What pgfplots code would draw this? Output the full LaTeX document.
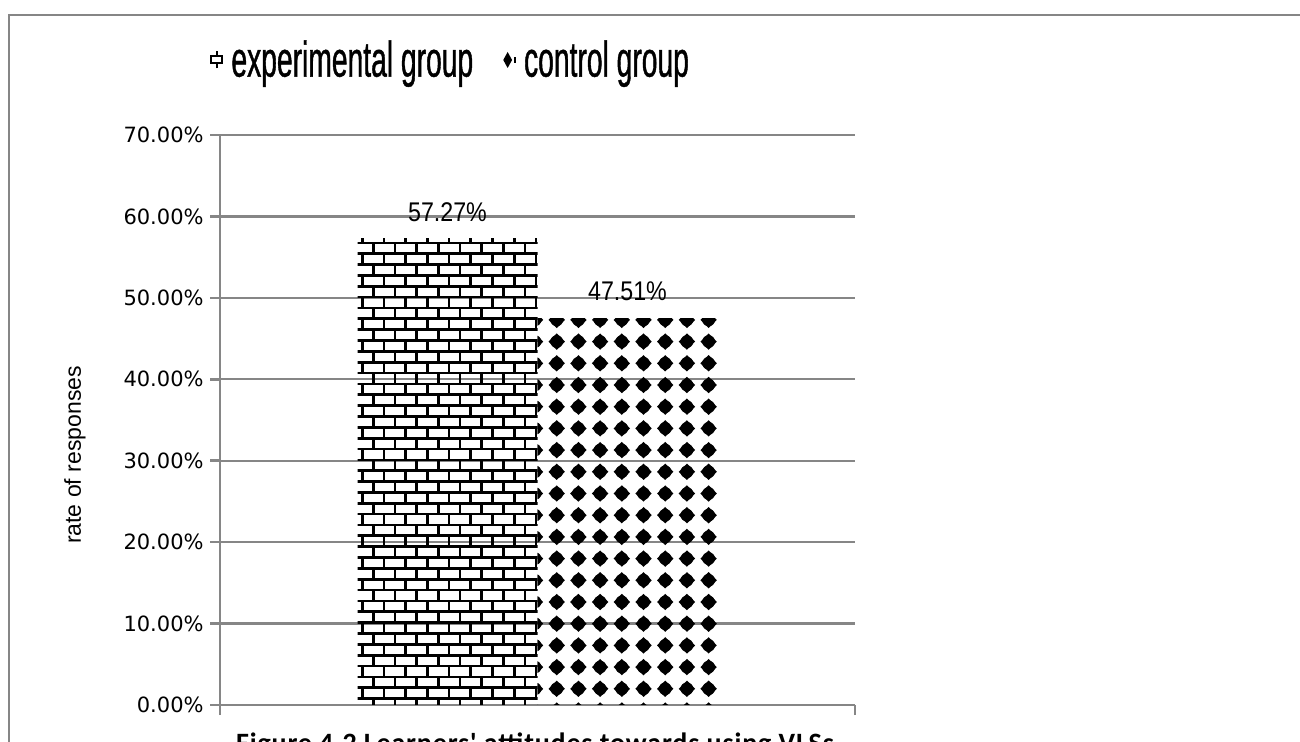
\documentclass[border=0pt]{standalone}
\usepackage{pgfplots}
\pgfplotsset{compat=1.18}
\usetikzlibrary{patterns}
\usepackage{fontspec}
\setmainfont{Liberation Sans}
\newfontfamily\legfont[FakeStretch=0.565,FakeBold=0.8]{Liberation Sans}
\newfontfamily\lblfont[FakeStretch=0.86]{Liberation Sans}
\newfontfamily\tickfont{DejaVu Sans}
\newfontfamily\capfont[LetterSpace=3]{Carlito}
\definecolor{axisgray}{HTML}{868686}

\pgfdeclarepatternformonly{xlbricks}{\pgfpoint{-1bp}{-1bp}}{\pgfpoint{11.85bp}{11.85bp}}{\pgfpoint{10.85bp}{10.85bp}}{%
\pgfsetlinewidth{1.35bp}%
\pgfpathmoveto{\pgfpoint{0bp}{0bp}}\pgfpathlineto{\pgfpoint{10.85bp}{0bp}}%
\pgfpathmoveto{\pgfpoint{0bp}{5.425bp}}\pgfpathlineto{\pgfpoint{10.85bp}{5.425bp}}%
\pgfpathmoveto{\pgfpoint{7.55bp}{0bp}}\pgfpathlineto{\pgfpoint{7.55bp}{5.425bp}}%
\pgfpathmoveto{\pgfpoint{2.125bp}{5.425bp}}\pgfpathlineto{\pgfpoint{2.125bp}{10.85bp}}%
\pgfusepath{stroke}}

\pgfdeclarepatternformonly{xldiamonds}{\pgfpoint{-1bp}{-1bp}}{\pgfpoint{12bp}{12bp}}{\pgfpoint{10.85bp}{10.85bp}}{%
\pgfpathmoveto{\pgfpoint{3.0bp}{4.9bp}}\pgfpathlineto{\pgfpoint{7.1bp}{9.0bp}}%
\pgfpathlineto{\pgfpoint{11.2bp}{4.9bp}}\pgfpathlineto{\pgfpoint{7.1bp}{0.8bp}}\pgfpathclose
\pgfusepath{fill}%
\pgfpathcircle{\pgfpoint{7.1bp}{4.9bp}}{3.2bp}%
\pgfusepath{fill}}

\begin{document}
\begin{tikzpicture}
\useasboundingbox (0,0) rectangle (650bp,371bp);
\clip (0,0) rectangle (650bp,371bp);
\draw[line width=1bp, color=axisgray] (4.25bp,-5bp) -- (4.25bp,363.5bp) -- (660bp,363.5bp);
\begin{axis}[
  at={(110bp,18.5bp)}, anchor=south west,
  width=317.5bp, height=285bp, scale only axis,
  xmin=-0.5, xmax=0.5, ymin=0, ymax=70,
  axis x line=bottom, axis y line=left,
  axis line style={draw=axisgray, line width=1.25bp, -},
  xtick={-0.5,0.5}, xticklabels={,},
  ytick={0,10,...,70},
  yticklabel={\pgfmathprintnumber[fixed,fixed zerofill,precision=2,assume math mode=true]{\tick}\%},
  yticklabel style={font=\tickfont\fontsize{10.5bp}{12bp}\selectfont, inner sep=0pt, xshift=-3bp},
  ymajorgrids, grid style={draw=axisgray, line width=1.1bp},
  tick style={draw=axisgray, line width=1.25bp},
  tick align=outside, major tick length=5bp,
  ybar=0pt, bar width=90bp,
  nodes near coords={\pgfmathprintnumber[fixed,fixed zerofill,precision=2,assume math mode=true]{\pgfplotspointmeta}\%},
  nodes near coords style={font=\lblfont\fontsize{13.5bp}{15bp}\selectfont, inner sep=0pt, yshift=8.5bp, text=black},
  ylabel={rate of responses},
  ylabel style={at={(axis description cs:-0.2283,0.4386)}, anchor=center, font=\fontsize{11.5bp}{13bp}\selectfont},
  legend columns=2,
  legend style={at={(-0.0157,1.1316)}, anchor=west, draw=none, fill=none, inner sep=0pt,
    font=\legfont\fontsize{25bp}{29bp}\selectfont,
    nodes={inner sep=1bp},
    /tikz/every odd column/.append style={column sep=3bp},
    /tikz/every even column/.append style={column sep=14bp}},
]
\addplot[draw=none, pattern=xlbricks,
  legend image code/.code={%
    \draw[black, line width=1bp, fill=white] (0bp,-1.5bp) rectangle (5.5bp,1.8bp);
    \draw[black, line width=1bp] (2.75bp,1.8bp) -- (2.75bp,4.5bp) (2.75bp,-1.5bp) -- (2.75bp,-4.2bp);}]
  coordinates {(0,57.27)};
\addlegendentry{experimental group}
\addplot[draw=none, pattern=xldiamonds,
  legend image code/.code={%
    \fill[black] (0bp,0bp) -- (2.2bp,4bp) -- (4.4bp,0bp) -- (2.2bp,-4bp) -- cycle;
    \fill[black] (5.2bp,-1.5bp) rectangle (6.4bp,1.5bp);}]
  coordinates {(0,47.51)};
\addlegendentry{control group}
\end{axis}
\node[font=\capfont\bfseries\fontsize{14bp}{16bp}\selectfont, anchor=base] at (267.5bp,-5bp) {Figure 4.2 Learners' attitudes towards using VLSs};
\end{tikzpicture}
\end{document}
